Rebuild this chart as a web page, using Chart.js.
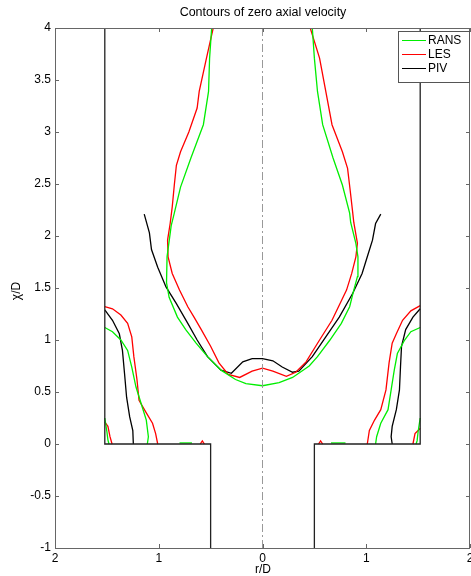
<!DOCTYPE html>
<html>
<head>
<meta charset="utf-8">
<script src="https://cdn.jsdelivr.net/npm/chart.js@4"></script>
<style>
  html, body { margin: 0; padding: 0; background: #fff; }
  canvas { display: block; }
</style>
</head>
<body>
<canvas id="myChart" width="471" height="576"></canvas>
<script>
// contour points, [r/D, x/D]
var ransCore = [[-0.49,4.0],[-0.51,3.71],[-0.52,3.39],[-0.57,3.07],[-0.69,2.75],[-0.79,2.47],[-0.85,2.22],[-0.88,2.10],[-0.92,1.80],[-0.925,1.55],[-0.90,1.41],[-0.82,1.22],[-0.74,1.10],[-0.64,0.97],[-0.53,0.84],[-0.40,0.71],[-0.26,0.62],[-0.16,0.58],[0,0.56],[0.16,0.59],[0.29,0.64],[0.45,0.75],[0.53,0.84],[0.65,1.0],[0.76,1.16],[0.84,1.32],[0.88,1.48],[0.915,1.61],[0.92,1.80],[0.90,1.93],[0.85,2.13],[0.84,2.22],[0.77,2.49],[0.68,2.75],[0.58,3.07],[0.53,3.39],[0.50,3.71],[0.48,4.0]];
var ransCornerL = [[-1.52,1.12],[-1.446,1.08],[-1.365,1.0],[-1.30,0.90],[-1.26,0.74],[-1.22,0.55],[-1.17,0.39],[-1.12,0.23],[-1.10,0.07],[-1.11,0.0]];
var ransCornerR = [[1.52,1.12],[1.43,1.08],[1.37,1.0],[1.30,0.87],[1.27,0.71],[1.24,0.52],[1.21,0.33],[1.14,0.20],[1.10,0.07],[1.09,0.0]];
var ransBits = [
  [[-1.52,0.25],[-1.50,0.12],[-1.49,0.04],[-1.48,0.0]],
  [[1.52,0.25],[1.50,0.12],[1.49,0.03],[1.48,0.0]],
  [[-0.80,0.01],[-0.68,0.01]],
  [[0.66,0.01],[0.80,0.01]]
];

var lesCore = [[-0.475,4.0],[-0.54,3.71],[-0.61,3.39],[-0.63,3.23],[-0.71,3.0],[-0.79,2.81],[-0.83,2.68],[-0.85,2.49],[-0.87,2.28],[-0.89,2.12],[-0.915,1.96],[-0.91,1.80],[-0.87,1.64],[-0.80,1.48],[-0.72,1.32],[-0.66,1.22],[-0.59,1.10],[-0.50,0.94],[-0.42,0.78],[-0.33,0.67],[-0.22,0.64],[-0.10,0.70],[0,0.73],[0.10,0.70],[0.23,0.65],[0.32,0.69],[0.42,0.79],[0.55,1.0],[0.67,1.19],[0.81,1.48],[0.86,1.64],[0.90,1.80],[0.915,1.93],[0.88,2.13],[0.87,2.22],[0.845,2.44],[0.82,2.65],[0.77,2.81],[0.67,3.07],[0.61,3.39],[0.55,3.71],[0.46,4.0]];
var lesCornerL = [[-1.52,1.32],[-1.446,1.30],[-1.365,1.24],[-1.30,1.16],[-1.26,1.03],[-1.24,0.84],[-1.21,0.62],[-1.19,0.42],[-1.12,0.30],[-1.06,0.20],[-1.03,0.10],[-1.01,0.0]];
var lesCornerR = [[1.52,1.33],[1.43,1.28],[1.35,1.19],[1.29,1.06],[1.25,0.97],[1.22,0.78],[1.19,0.52],[1.14,0.33],[1.08,0.23],[1.03,0.13],[1.01,0.0]];
var lesBits = [
  [[-1.52,0.21],[-1.49,0.17],[-1.47,0.07],[-1.45,0.0]],
  [[1.52,0.15],[1.50,0.13],[1.47,0.10],[1.45,0.0]],
  [[-0.60,0.0],[-0.58,0.03],[-0.56,0.0]],
  [[0.54,0.0],[0.56,0.03],[0.58,0.0]]
];

var pivCore = [[-1.14,2.21],[-1.09,2.03],[-1.07,1.87],[-1.01,1.70],[-0.93,1.51],[-0.83,1.35],[-0.72,1.16],[-0.63,1.0],[-0.53,0.84],[-0.40,0.71],[-0.30,0.68],[-0.19,0.79],[-0.10,0.82],[0,0.82],[0.10,0.80],[0.19,0.74],[0.29,0.69],[0.35,0.70],[0.48,0.84],[0.61,1.03],[0.74,1.22],[0.87,1.45],[0.96,1.64],[1.01,1.80],[1.06,1.96],[1.09,2.12],[1.14,2.21]];
var pivCornerL = [[-1.52,1.29],[-1.446,1.19],[-1.38,1.06],[-1.35,0.90],[-1.33,0.68],[-1.31,0.45],[-1.28,0.26],[-1.25,0.13],[-1.245,0.0]];
var pivCornerR = [[1.52,1.30],[1.45,1.22],[1.38,1.10],[1.34,0.94],[1.33,0.74],[1.32,0.52],[1.29,0.33],[1.25,0.17],[1.24,0.07],[1.25,0.0]];

// combustor walls and axis
var wallLeft = [[-1.52,4],[-1.52,0],[-0.5,0],[-0.5,-1]];
var wallRight = [[1.52,4],[1.52,0],[0.5,0],[0.5,-1]];
var axisLine = [[0,-1],[0,4]];

var seriesNames = ["RANS", "LES", "PIV"];
var seriesColors = ["#00ee00", "#ff0000", "#000000"];

function pts(a) {
  return a.map(function (p) { return { x: p[0], y: p[1] }; });
}

function line(a, color, w, dash) {
  return {
    data: pts(a),
    showLine: true,
    borderColor: color,
    borderWidth: w,
    borderDash: dash || [],
    pointRadius: 0,
    fill: false,
    tension: 0
  };
}

var datasets = [];
datasets.push(line(axisLine, "#999999", 1, [8, 3, 2, 3]));
datasets.push(line(wallLeft, "#222222", 1.3));
datasets.push(line(wallRight, "#222222", 1.3));
[ransCore, ransCornerL, ransCornerR].concat(ransBits).forEach(function (s) {
  datasets.push(line(s, seriesColors[0], 1.3));
});
[lesCore, lesCornerL, lesCornerR].concat(lesBits).forEach(function (s) {
  datasets.push(line(s, seriesColors[1], 1.3));
});
[pivCore, pivCornerL, pivCornerR].forEach(function (s) {
  datasets.push(line(s, seriesColors[2], 1.3));
});

var FONT = '"Liberation Sans", Arial, sans-serif';

var frame = {
  id: "frame",
  afterDraw: function (chart) {
    var c = chart.ctx, a = chart.chartArea;
    var sx = chart.scales.x, sy = chart.scales.y;
    c.save();
    // box
    c.strokeStyle = "#666";
    c.lineWidth = 1;
    c.strokeRect(Math.round(a.left) + 0.5, Math.round(a.top) + 0.5,
      Math.round(a.right - a.left) - 1, Math.round(a.bottom - a.top));
    // inward ticks
    c.beginPath();
    for (var v = -2; v <= 2; v++) {
      var px = Math.round(sx.getPixelForValue(v)) + 0.5;
      c.moveTo(px, a.bottom); c.lineTo(px, a.bottom - 4);
      c.moveTo(px, a.top); c.lineTo(px, a.top + 4);
    }
    for (var k = 0; k <= 10; k++) {
      var py = Math.round(sy.getPixelForValue(-1 + k * 0.5)) + 0.5;
      c.moveTo(a.left, py); c.lineTo(a.left + 4, py);
      c.moveTo(a.right, py); c.lineTo(a.right - 4, py);
    }
    c.stroke();

    c.fillStyle = "#000";
    c.font = "12.5px " + FONT;
    c.textAlign = "center";
    c.textBaseline = "middle";
    c.fillText("Contours of zero axial velocity", 263, 13);
    c.font = "12px " + FONT;
    c.fillText("r/D", 263, 570);
    c.save();
    c.translate(17, 291);
    c.rotate(-Math.PI / 2);
    c.fillText("\u03c7/D", 0, 0);
    c.restore();

    // legend
    var lx = 398, ly = 31, lw = 71, lh = 51;
    c.fillStyle = "#fff";
    c.fillRect(lx, ly, lw, lh);
    c.strokeStyle = "#555";
    c.strokeRect(lx + 0.5, ly + 0.5, lw, lh);
    c.textAlign = "left";
    c.font = "12px " + FONT;
    for (var i = 0; i < seriesNames.length; i++) {
      var yy = 40 + i * 14;
      c.strokeStyle = seriesColors[i];
      c.lineWidth = 1;
      c.beginPath();
      c.moveTo(402, yy + 0.5); c.lineTo(426, yy + 0.5);
      c.stroke();
      c.fillStyle = "#000";
      c.fillText(seriesNames[i], 428, yy + 1);
    }
    c.restore();
  }
};

var ctx = document.getElementById("myChart").getContext("2d");
var chart = new Chart(ctx, {
  type: "scatter",
  data: { datasets: datasets },
  options: {
    responsive: false,
    animation: false,
    layout: { padding: { top: 28, right: 1, left: 0, bottom: 0 } },
    plugins: { legend: { display: false }, tooltip: { enabled: false } },
    scales: {
      x: {
        type: "linear", min: -2, max: 2,
        grid: { display: false, drawTicks: false }, border: { display: false },
        ticks: {
          stepSize: 1, padding: 3, color: "#000",
          font: { family: FONT, size: 12 },
          callback: function (v) { return String(Math.abs(v)); }
        },
        afterFit: function (s) { s.height = 28; s.paddingLeft = 0; s.paddingRight = 0; }
      },
      y: {
        type: "linear", min: -1, max: 4,
        grid: { display: false, drawTicks: false }, border: { display: false },
        ticks: {
          stepSize: 0.5, padding: 4, color: "#000",
          font: { family: FONT, size: 12 },
          callback: function (v) { return String(Math.round(v * 10) / 10); }
        },
        afterFit: function (s) { s.width = 55; s.paddingTop = 0; s.paddingBottom = 0; }
      }
    }
  },
  plugins: [frame]
});
</script>
</body>
</html>
